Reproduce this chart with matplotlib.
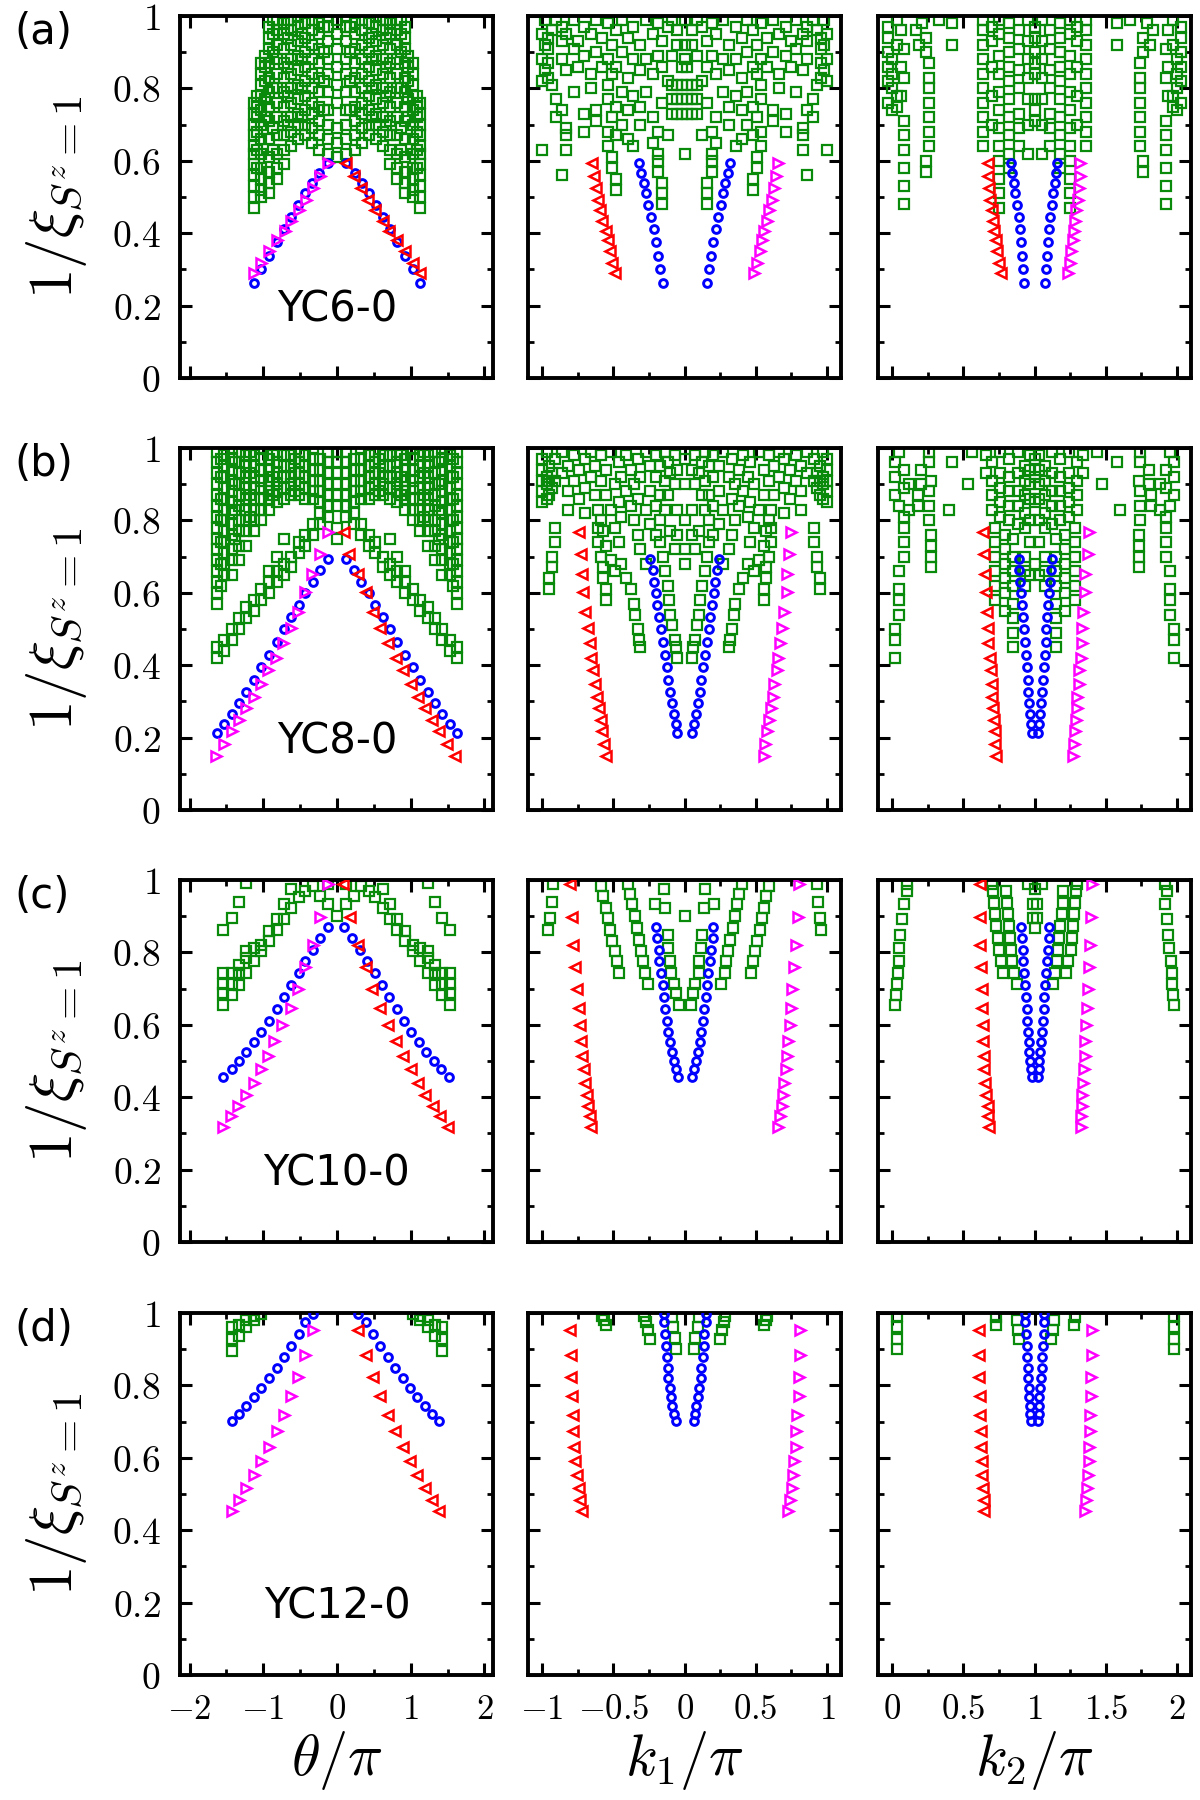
import numpy as np
import matplotlib.pyplot as plt

plt.rcParams['mathtext.fontset'] = 'cm'

# ---------------- row (a): YC6-0 ----------------
a_blue_y = [0.593, 0.567, 0.540, 0.510, 0.479, 0.445, 0.411, 0.375, 0.338, 0.300, 0.263]
a_blue_th_l = [-0.12, -0.24, -0.34, -0.44, -0.53, -0.63, -0.72, -0.81, -0.92, -1.03, -1.13]
a_blue_th_r = [0.12, 0.24, 0.34, 0.44, 0.53, 0.63, 0.72, 0.81, 0.92, 1.03, 1.13]
a_blue_k1_l = [-0.319, -0.303, -0.287, -0.271, -0.256, -0.233, -0.218, -0.202, -0.186, -0.170, -0.151]
a_blue_k1_r = [0.319, 0.303, 0.287, 0.271, 0.256, 0.233, 0.218, 0.202, 0.186, 0.170, 0.155]
a_blue_k2_l = [0.836, 0.842, 0.852, 0.864, 0.874, 0.890, 0.896, 0.905, 0.912, 0.921, 0.927]
a_blue_k2_r = [1.158, 1.151, 1.142, 1.132, 1.123, 1.110, 1.104, 1.095, 1.088, 1.079, 1.073]
a_tri_y = [0.593, 0.558, 0.524, 0.493, 0.463, 0.434, 0.407, 0.380, 0.352, 0.319, 0.290]
a_mag_th = [-0.12, -0.23, -0.33, -0.425, -0.52, -0.62, -0.71, -0.82, -0.92, -1.03, -1.13]
a_red_th = [0.12, 0.23, 0.33, 0.425, 0.52, 0.62, 0.71, 0.82, 0.92, 1.03, 1.13]
a_red_k1 = [-0.650, -0.634, -0.625, -0.609, -0.593, -0.577, -0.555, -0.539, -0.524, -0.508, -0.486]
a_mag_k1 = [0.659, 0.640, 0.628, 0.612, 0.596, 0.580, 0.560, 0.544, 0.527, 0.511, 0.486]
a_red_k2 = [0.669, 0.675, 0.681, 0.688, 0.697, 0.707, 0.716, 0.726, 0.735, 0.748, 0.763]
a_mag_k2 = [1.322, 1.316, 1.310, 1.303, 1.294, 1.285, 1.275, 1.266, 1.256, 1.247, 1.237]

a_green_th = [
    (-1.13, [0.47, 0.50, 0.53, 0.56, 0.59, 0.62, 0.64, 0.67, 0.70, 0.73, 0.76]),
    (-1.08, [0.58, 0.63, 0.68, 0.72, 0.75, 0.78]),
    (-1.03, [0.50, 0.52, 0.55, 0.58, 0.62, 0.66, 0.70, 0.74, 0.78, 0.81, 0.84, 0.87]),
    (-0.97, [0.72, 0.77, 0.82, 0.86, 0.89]),
    (-0.92, [0.51, 0.54, 0.57, 0.61, 0.66, 0.71, 0.75, 0.79, 0.83, 0.87, 0.91, 0.94, 0.97]),
    (-0.87, [0.63, 0.69, 0.80, 0.90, 0.95, 0.99]),
    (-0.81, [0.55, 0.58, 0.62, 0.67, 0.72, 0.76, 0.80, 0.84, 0.88, 0.92, 0.96, 0.99]),
    (-0.72, [0.59, 0.63, 0.67, 0.71, 0.75, 0.79, 0.83, 0.87, 0.91, 0.95, 0.98]),
    (-0.67, [0.70, 0.78, 0.86, 0.94, 0.99]),
    (-0.63, [0.64, 0.68, 0.72, 0.76, 0.80, 0.84, 0.88, 0.92, 0.96, 0.99]),
    (-0.53, [0.66, 0.70, 0.73, 0.77, 0.81, 0.85, 0.89, 0.93, 0.97, 1.00]),
    (-0.48, [0.72, 0.80, 0.88, 0.95]),
    (-0.44, [0.67, 0.70, 0.74, 0.78, 0.82, 0.86, 0.90, 0.94, 0.98]),
    (-0.34, [0.65, 0.69, 0.73, 0.76, 0.80, 0.84, 0.88, 0.92, 0.96, 0.99]),
    (-0.24, [0.63, 0.67, 0.71, 0.75, 0.79, 0.83, 0.87, 0.91, 0.95, 0.98]),
    (-0.18, [0.74, 0.82, 0.90, 0.97]),
    (-0.12, [0.62, 0.66, 0.70, 0.74, 0.79, 0.84, 0.88, 0.93, 0.97, 1.00]),
    (0.00, [0.61, 0.65, 0.69, 0.76, 0.81, 0.86, 0.91, 0.95, 0.99]),
    (0.12, [0.62, 0.66, 0.70, 0.74, 0.79, 0.84, 0.88, 0.93, 0.97, 1.00]),
    (0.18, [0.74, 0.82, 0.90, 0.97]),
    (0.24, [0.63, 0.67, 0.71, 0.75, 0.79, 0.83, 0.87, 0.91, 0.95, 0.98]),
    (0.34, [0.65, 0.69, 0.73, 0.76, 0.80, 0.84, 0.88, 0.92, 0.96, 0.99]),
    (0.44, [0.67, 0.70, 0.74, 0.78, 0.82, 0.86, 0.90, 0.94, 0.98]),
    (0.48, [0.72, 0.80, 0.88, 0.95]),
    (0.53, [0.66, 0.70, 0.73, 0.77, 0.81, 0.85, 0.89, 0.93, 0.97, 1.00]),
    (0.63, [0.64, 0.68, 0.72, 0.76, 0.80, 0.84, 0.88, 0.92, 0.96, 0.99]),
    (0.67, [0.70, 0.78, 0.86, 0.94, 0.99]),
    (0.72, [0.59, 0.63, 0.67, 0.71, 0.75, 0.79, 0.83, 0.87, 0.91, 0.95, 0.98]),
    (0.81, [0.55, 0.58, 0.62, 0.67, 0.72, 0.76, 0.80, 0.84, 0.88, 0.92, 0.96, 0.99]),
    (0.87, [0.63, 0.69, 0.80, 0.90, 0.95, 0.99]),
    (0.92, [0.51, 0.54, 0.57, 0.61, 0.66, 0.71, 0.75, 0.79, 0.83, 0.87, 0.91, 0.94, 0.97]),
    (0.97, [0.72, 0.77, 0.82, 0.86, 0.89]),
    (1.03, [0.50, 0.52, 0.55, 0.58, 0.62, 0.66, 0.70, 0.74, 0.78, 0.81, 0.84, 0.87]),
    (1.08, [0.58, 0.63, 0.68, 0.72, 0.75, 0.78]),
    (1.13, [0.47, 0.50, 0.53, 0.56, 0.59, 0.62, 0.64, 0.67, 0.70, 0.73, 0.76]),
]
a_green_k1 = [
    (-1.00, [0.63, 0.82, 0.88, 0.95]), (-0.98, [0.85, 0.92, 0.99]),
    (-0.96, [0.83, 0.87, 0.91, 0.94]), (-0.93, [0.81, 0.96]),
    (-0.90, [0.72, 0.77, 0.99]), (-0.86, [0.56, 0.74, 0.88, 0.93, 0.97]),
    (-0.83, [0.63, 0.67, 0.69, 0.85, 0.95]), (-0.78, [0.79, 0.91, 0.99]),
    (-0.75, [0.86, 0.93]), (-0.71, [0.68, 0.73, 0.89, 0.97]),
    (-0.66, [0.80, 0.84, 0.95]), (-0.62, [0.71, 0.74, 0.90, 0.99]),
    (-0.58, [0.86, 0.94]), (-0.54, [0.64, 0.68, 0.77, 0.81, 0.88, 0.98]),
    (-0.51, [0.58, 0.61, 0.72, 0.84, 0.92]), (-0.48, [0.52, 0.55, 0.67, 0.75, 0.86, 0.96]),
    (-0.44, [0.70, 0.79, 0.90, 0.99]), (-0.40, [0.66, 0.74, 0.83, 0.94]),
    (-0.36, [0.64, 0.78, 0.88, 0.97]), (-0.31, [0.70, 0.75, 0.85, 0.92]),
    (-0.27, [0.79, 0.88, 0.99]), (-0.22, [0.65, 0.72, 0.84, 0.95]),
    (-0.19, [0.57, 0.60, 0.62, 0.68, 0.89, 0.98]), (-0.16, [0.48, 0.51, 0.54, 0.76, 0.86, 0.93]),
    (-0.12, [0.67, 0.82, 0.97]), (-0.09, [0.73, 0.77, 0.81, 0.89, 0.99]),
    (-0.05, [0.73, 0.77, 0.81, 0.92, 0.96]), (-0.02, [0.73, 0.77, 0.81, 0.86]),
    (0.00, [0.62, 0.88, 0.92, 0.99]),
    (0.02, [0.73, 0.77, 0.81, 0.86]), (0.05, [0.73, 0.77, 0.81, 0.92, 0.96]),
    (0.09, [0.73, 0.77, 0.81, 0.89, 0.99]), (0.12, [0.67, 0.82, 0.97]),
    (0.16, [0.48, 0.51, 0.54, 0.76, 0.86, 0.93]), (0.19, [0.57, 0.60, 0.62, 0.68, 0.89, 0.98]),
    (0.22, [0.65, 0.72, 0.84, 0.95]), (0.27, [0.79, 0.88, 0.99]),
    (0.31, [0.70, 0.75, 0.85, 0.92]), (0.36, [0.64, 0.78, 0.88, 0.97]),
    (0.40, [0.66, 0.74, 0.83, 0.94]), (0.44, [0.70, 0.79, 0.90, 0.99]),
    (0.48, [0.52, 0.55, 0.67, 0.75, 0.86, 0.96]), (0.51, [0.58, 0.61, 0.72, 0.84, 0.92]),
    (0.54, [0.64, 0.68, 0.77, 0.81, 0.88, 0.98]), (0.58, [0.86, 0.94]),
    (0.62, [0.71, 0.74, 0.90, 0.99]), (0.66, [0.80, 0.84, 0.95]),
    (0.71, [0.68, 0.73, 0.89, 0.97]), (0.75, [0.86, 0.93]),
    (0.78, [0.79, 0.91, 0.99]), (0.83, [0.63, 0.67, 0.69, 0.85, 0.95]),
    (0.86, [0.56, 0.74, 0.88, 0.93, 0.97]), (0.90, [0.72, 0.77, 0.99]),
    (0.93, [0.81, 0.96]), (0.96, [0.83, 0.87, 0.91, 0.94]),
    (0.98, [0.85, 0.92, 0.99]), (1.00, [0.63, 0.82, 0.88, 0.95]),
]
a_green_k2 = [
    (-0.03, [0.76, 0.82, 0.86, 0.90, 0.94, 0.97]), (0.00, [0.74, 0.80, 0.84, 0.88]),
    (0.03, [0.75, 0.78, 0.92, 0.99]), (0.06, [0.78, 0.86, 0.96]),
    (0.08, [0.48, 0.53, 0.58, 0.63, 0.67, 0.71, 0.83, 0.91]),
    (0.17, [0.96]), (0.19, [0.92]), (0.21, [0.98]),
    (0.24, [0.57, 0.60, 0.90, 0.94]), (0.26, [0.64, 0.68, 0.72, 0.76, 0.80, 0.83, 0.87]),
    (0.33, [0.99]), (0.42, [0.92, 0.98]),
    (0.64, [0.64, 0.68, 0.72, 0.76, 0.80, 0.84, 0.88, 0.92, 0.96, 0.99]),
    (0.70, [0.70, 0.78, 0.86, 0.93, 0.97]),
    (0.75, [0.47, 0.51, 0.55, 0.60, 0.64, 0.69, 0.74, 0.79, 0.84, 0.89, 0.95, 0.99]),
    (0.82, [0.58, 0.62, 0.67, 0.72, 0.77, 0.82, 0.86, 0.90, 0.94, 0.98]),
    (0.89, [0.64, 0.69, 0.73, 0.80, 0.85, 0.91, 0.96]),
    (0.95, [0.62, 0.70, 0.77, 0.83, 0.88, 0.93, 0.99]),
    (1.00, [0.71, 0.74, 0.77, 0.84, 0.87, 0.90, 0.94, 0.97]),
    (1.05, [0.62, 0.70, 0.77, 0.83, 0.88, 0.93, 0.99]),
    (1.11, [0.64, 0.69, 0.73, 0.80, 0.85, 0.91, 0.96]),
    (1.18, [0.58, 0.62, 0.67, 0.72, 0.77, 0.82, 0.86, 0.90, 0.94, 0.98]),
    (1.25, [0.47, 0.51, 0.55, 0.60, 0.64, 0.69, 0.74, 0.79, 0.84, 0.89, 0.95, 0.99]),
    (1.30, [0.70, 0.78, 0.86, 0.93, 0.97]),
    (1.36, [0.64, 0.68, 0.72, 0.76, 0.80, 0.84, 0.88, 0.92, 0.96, 0.99]),
    (1.58, [0.92, 0.98]), (1.67, [0.99]),
    (1.74, [0.64, 0.68, 0.72, 0.76, 0.80, 0.83, 0.87]), (1.76, [0.57, 0.60, 0.90, 0.94]),
    (1.79, [0.98]), (1.81, [0.92]), (1.83, [0.96]),
    (1.92, [0.48, 0.53, 0.58, 0.63, 0.67, 0.71, 0.83, 0.91]),
    (1.94, [0.78, 0.86, 0.96]), (1.97, [0.75, 0.78, 0.92, 0.99]),
    (2.00, [0.74, 0.80, 0.84, 0.88]), (2.03, [0.76, 0.82, 0.86, 0.90, 0.94, 0.97]),
]

# ---------------- row (b): YC8-0 ----------------
b_blue_y = [0.693, 0.663, 0.631, 0.600, 0.567, 0.533, 0.500, 0.463, 0.428, 0.394,
            0.358, 0.326, 0.295, 0.265, 0.237, 0.214]
b_blue_th_l = [-0.12, -0.23, -0.33, -0.43, -0.52, -0.62, -0.72, -0.82, -0.92, -1.03,
               -1.13, -1.23, -1.33, -1.43, -1.53, -1.63]
b_blue_th_r = [0.12, 0.23, 0.33, 0.43, 0.52, 0.62, 0.72, 0.82, 0.92, 1.03,
               1.13, 1.23, 1.33, 1.43, 1.53, 1.63]
b_blue_k1_l = [-0.240, -0.224, -0.215, -0.202, -0.192, -0.177, -0.167, -0.155, -0.139, -0.123,
               -0.114, -0.104, -0.091, -0.076, -0.060, -0.050]
b_blue_k1_r = [0.243, 0.227, 0.217, 0.205, 0.193, 0.180, 0.168, 0.156, 0.142, 0.126,
               0.116, 0.105, 0.093, 0.078, 0.063, 0.054]
b_blue_k2_l = [0.890, 0.893, 0.899, 0.905, 0.911, 0.918, 0.924, 0.930, 0.937, 0.943,
               0.950, 0.956, 0.962, 0.968, 0.975, 0.984]
b_blue_k2_r = [1.120, 1.115, 1.110, 1.103, 1.097, 1.090, 1.083, 1.077, 1.070, 1.063,
               1.057, 1.050, 1.044, 1.038, 1.032, 1.025]
b_tri_y = [0.769, 0.707, 0.651, 0.602, 0.546, 0.502, 0.462, 0.421, 0.386, 0.349,
           0.313, 0.282, 0.248, 0.217, 0.183, 0.149]
b_mag_th = [-0.12, -0.23, -0.34, -0.44, -0.53, -0.63, -0.73, -0.83, -0.93, -1.03,
            -1.13, -1.23, -1.33, -1.43, -1.53, -1.64]
b_red_th = [0.10, 0.17, 0.29, 0.40, 0.49, 0.58, 0.69, 0.80, 0.90, 1.00,
            1.10, 1.19, 1.29, 1.39, 1.49, 1.60]
b_red_k1 = [-0.744, -0.729, -0.719, -0.713, -0.697, -0.681, -0.666, -0.656, -0.644, -0.628,
            -0.618, -0.603, -0.587, -0.577, -0.565, -0.555]
b_mag_k1 = [0.748, 0.735, 0.722, 0.716, 0.700, 0.685, 0.669, 0.659, 0.647, 0.631,
            0.621, 0.606, 0.590, 0.580, 0.568, 0.558]
b_red_k2 = [0.637, 0.647, 0.653, 0.659, 0.662, 0.669, 0.675, 0.685, 0.691, 0.700,
            0.703, 0.707, 0.716, 0.719, 0.722, 0.732]
b_mag_k2 = [1.379, 1.372, 1.353, 1.353, 1.341, 1.334, 1.331, 1.325, 1.315, 1.309,
            1.300, 1.300, 1.290, 1.284, 1.278, 1.268]

b_green_th = [
    (-1.63, [0.42, 0.45, 0.57, 0.60, 0.63, 0.66, 0.69, 0.72, 0.75, 0.78, 0.81, 0.84, 0.87, 0.90, 0.93, 0.96, 0.99]),
    (-1.58, [0.62, 0.68, 0.74, 0.80, 0.86, 0.92, 0.97]),
    (-1.53, [0.44, 0.47, 0.65, 0.68, 0.71, 0.74, 0.77, 0.80, 0.83, 0.86, 0.89, 0.92, 0.95, 0.98]),
    (-1.43, [0.47, 0.50, 0.65, 0.69, 0.72, 0.76, 0.79, 0.82, 0.85, 0.88, 0.91, 0.94, 0.97, 1.00]),
    (-1.38, [0.75, 0.83, 0.90, 0.96]),
    (-1.33, [0.50, 0.53, 0.69, 0.73, 0.77, 0.80, 0.84, 0.87, 0.90, 0.93, 0.96, 0.99]),
    (-1.23, [0.53, 0.56, 0.73, 0.77, 0.80, 0.83, 0.86, 0.89, 0.92, 0.95, 0.98]),
    (-1.18, [0.81, 0.87, 0.93, 0.99]),
    (-1.13, [0.55, 0.58, 0.77, 0.80, 0.83, 0.86, 0.89, 0.92, 0.95, 0.98]),
    (-1.03, [0.58, 0.61, 0.80, 0.83, 0.86, 0.89, 0.91, 0.94, 0.97, 1.00]),
    (-0.92, [0.60, 0.63, 0.66, 0.83, 0.86, 0.88, 0.91, 0.94, 0.97]),
    (-0.87, [0.87, 0.92, 0.98]),
    (-0.82, [0.63, 0.66, 0.70, 0.85, 0.88, 0.90, 0.93, 0.96, 0.99]),
    (-0.72, [0.65, 0.68, 0.75, 0.86, 0.89, 0.92, 0.95, 0.98]),
    (-0.62, [0.67, 0.70, 0.87, 0.90, 0.92, 0.95, 0.98]),
    (-0.57, [0.88, 0.93, 0.97]),
    (-0.52, [0.71, 0.74, 0.87, 0.90, 0.93, 0.96, 0.99]),
    (-0.43, [0.73, 0.76, 0.86, 0.89, 0.92, 0.95, 0.98]),
    (-0.33, [0.76, 0.79, 0.86, 0.88, 0.91, 0.94, 0.97, 1.00]),
    (-0.23, [0.79, 0.82, 0.85, 0.88, 0.91, 0.94, 0.97]),
    (-0.12, [0.81, 0.84, 0.87, 0.90, 0.93, 0.96, 0.99]),
    (0.00, [0.75, 0.78, 0.84, 0.87, 0.90, 0.93, 0.96, 0.99]),
    (0.12, [0.81, 0.84, 0.87, 0.90, 0.93, 0.96, 0.99]),
    (0.23, [0.79, 0.82, 0.85, 0.88, 0.91, 0.94, 0.97]),
    (0.33, [0.76, 0.79, 0.86, 0.88, 0.91, 0.94, 0.97, 1.00]),
    (0.43, [0.73, 0.76, 0.86, 0.89, 0.92, 0.95, 0.98]),
    (0.52, [0.71, 0.74, 0.87, 0.90, 0.93, 0.96, 0.99]),
    (0.57, [0.88, 0.93, 0.97]),
    (0.62, [0.67, 0.70, 0.87, 0.90, 0.92, 0.95, 0.98]),
    (0.72, [0.65, 0.68, 0.75, 0.86, 0.89, 0.92, 0.95, 0.98]),
    (0.82, [0.63, 0.66, 0.70, 0.85, 0.88, 0.90, 0.93, 0.96, 0.99]),
    (0.87, [0.87, 0.92, 0.98]),
    (0.92, [0.60, 0.63, 0.66, 0.83, 0.86, 0.88, 0.91, 0.94, 0.97]),
    (1.03, [0.58, 0.61, 0.80, 0.83, 0.86, 0.89, 0.91, 0.94, 0.97, 1.00]),
    (1.13, [0.55, 0.58, 0.77, 0.80, 0.83, 0.86, 0.89, 0.92, 0.95, 0.98]),
    (1.18, [0.81, 0.87, 0.93, 0.99]),
    (1.23, [0.53, 0.56, 0.73, 0.77, 0.80, 0.83, 0.86, 0.89, 0.92, 0.95, 0.98]),
    (1.33, [0.50, 0.53, 0.69, 0.73, 0.77, 0.80, 0.84, 0.87, 0.90, 0.93, 0.96, 0.99]),
    (1.38, [0.75, 0.83, 0.90, 0.96]),
    (1.43, [0.47, 0.50, 0.65, 0.69, 0.72, 0.76, 0.79, 0.82, 0.85, 0.88, 0.91, 0.94, 0.97, 1.00]),
    (1.53, [0.44, 0.47, 0.65, 0.68, 0.71, 0.74, 0.77, 0.80, 0.83, 0.86, 0.89, 0.92, 0.95, 0.98]),
    (1.58, [0.62, 0.68, 0.74, 0.80, 0.86, 0.92, 0.97]),
    (1.63, [0.42, 0.45, 0.57, 0.60, 0.63, 0.66, 0.69, 0.72, 0.75, 0.78, 0.81, 0.84, 0.87, 0.90, 0.93, 0.96, 0.99]),
]
b_green_k1 = [
    (-1.00, [0.85, 0.88, 0.91, 0.94, 0.97]), (-0.97, [0.86, 0.90, 0.92, 0.99]),
    (-0.95, [0.61, 0.64, 0.87, 0.91, 0.95]), (-0.93, [0.67, 0.70, 0.89, 0.93]),
    (-0.91, [0.74, 0.78, 0.91, 0.97]), (-0.86, [0.93, 0.99]),
    (-0.82, [0.83, 0.88, 0.95]), (-0.78, [0.91, 0.98]), (-0.74, [0.86, 0.94]),
    (-0.70, [0.82, 0.89, 0.97]), (-0.66, [0.92, 0.99]), (-0.63, [0.87, 0.95]),
    (-0.61, [0.74, 0.78, 0.83]), (-0.59, [0.70, 0.80, 0.91, 0.98]),
    (-0.57, [0.64, 0.67, 0.77]), (-0.555, [0.58, 0.61, 0.73, 0.87, 0.94]),
    (-0.52, [0.69, 0.83, 0.99]), (-0.49, [0.66, 0.78, 0.90]),
    (-0.46, [0.74, 0.85, 0.96]), (-0.445, [0.68, 0.81, 0.92]),
    (-0.41, [0.64, 0.88, 0.98]), (-0.38, [0.61, 0.84, 0.94]),
    (-0.355, [0.57, 0.80, 0.90]), (-0.35, [0.54]), (-0.33, [0.50, 0.76, 0.86, 0.97]),
    (-0.32, [0.47]), (-0.31, [0.45, 0.72, 0.92]), (-0.27, [0.68, 0.83, 0.99]),
    (-0.24, [0.79, 0.88, 0.95]), (-0.20, [0.76, 0.84, 0.92, 0.98]),
    (-0.17, [0.74, 0.80, 0.87, 0.95]), (-0.155, [0.70]),
    (-0.14, [0.66, 0.83, 0.91, 0.99]), (-0.12, [0.62, 0.87, 0.96]), (-0.11, [0.58]),
    (-0.10, [0.54, 0.77, 0.93]), (-0.09, [0.51]), (-0.07, [0.47, 0.72, 0.90, 0.98]),
    (-0.06, [0.45]), (-0.05, [0.42, 0.76, 0.83, 0.94]),
    (0.00, [0.68, 0.72, 0.80, 0.90, 0.97]),
    (0.05, [0.42, 0.76, 0.83, 0.94]), (0.06, [0.45]), (0.07, [0.47, 0.72, 0.90, 0.98]),
    (0.09, [0.51]), (0.10, [0.54, 0.77, 0.93]), (0.11, [0.58]), (0.12, [0.62, 0.87, 0.96]),
    (0.14, [0.66, 0.83, 0.91, 0.99]), (0.155, [0.70]), (0.17, [0.74, 0.80, 0.87, 0.95]),
    (0.20, [0.76, 0.84, 0.92, 0.98]), (0.24, [0.79, 0.88, 0.95]),
    (0.27, [0.68, 0.83, 0.99]), (0.31, [0.45, 0.72, 0.92]), (0.32, [0.47]),
    (0.33, [0.50, 0.76, 0.86, 0.97]), (0.35, [0.54]), (0.355, [0.57, 0.80, 0.90]),
    (0.38, [0.61, 0.84, 0.94]), (0.41, [0.64, 0.88, 0.98]), (0.445, [0.68, 0.81, 0.92]),
    (0.46, [0.74, 0.85, 0.96]), (0.49, [0.66, 0.78, 0.90]), (0.52, [0.69, 0.83, 0.99]),
    (0.555, [0.58, 0.61, 0.73, 0.87, 0.94]), (0.57, [0.64, 0.67, 0.77]),
    (0.59, [0.70, 0.80, 0.91, 0.98]), (0.61, [0.74, 0.78, 0.83]),
    (0.63, [0.87, 0.95]), (0.66, [0.92, 0.99]), (0.70, [0.82, 0.89, 0.97]),
    (0.74, [0.86, 0.94]), (0.78, [0.91, 0.98]), (0.82, [0.83, 0.88, 0.95]),
    (0.86, [0.93, 0.99]), (0.91, [0.74, 0.78, 0.91, 0.97]), (0.93, [0.67, 0.70, 0.89, 0.93]),
    (0.95, [0.61, 0.64, 0.87, 0.91, 0.95]), (0.97, [0.86, 0.90, 0.92, 0.99]),
    (1.00, [0.85, 0.88, 0.91, 0.94, 0.97]),
]
b_green_k2 = [
    (0.02, [0.42, 0.47, 0.50, 0.87, 0.92, 0.96]), (0.05, [0.54, 0.58, 0.61, 0.66, 0.84, 0.99]),
    (0.08, [0.70, 0.74, 0.78, 0.81, 0.89, 0.94]), (0.12, [0.83, 0.90]),
    (0.18, [0.84, 0.87]), (0.20, [0.90, 0.94]),
    (0.26, [0.80, 0.84, 0.88, 0.96, 0.99]), (0.27, [0.67, 0.70, 0.73, 0.76, 0.91]),
    (0.40, [0.83]), (0.42, [0.96]), (0.53, [0.90]), (0.56, [0.99]),
    (0.66, [0.93, 0.98]), (0.70, [0.83, 0.87, 0.91, 0.96]),
    (0.72, [0.58, 0.62, 0.66, 0.70, 0.74, 0.78]), (0.76, [0.81, 0.85, 0.89, 0.93, 0.99]),
    (0.79, [0.55, 0.60, 0.64, 0.68, 0.72, 0.76]), (0.82, [0.80, 0.84, 0.88, 0.92, 0.97]),
    (0.85, [0.45, 0.49, 0.53, 0.57, 0.62, 0.66, 0.70, 0.75]), (0.88, [0.79, 0.84, 0.88, 0.93, 0.99]),
    (0.93, [0.62, 0.66, 0.70, 0.78, 0.82, 0.87, 0.91, 0.95]),
    (0.97, [0.65, 0.74, 0.80, 0.86, 0.90, 0.94, 0.98]), (1.00, [0.68, 0.85, 0.92, 0.97]),
    (1.03, [0.65, 0.74, 0.80, 0.86, 0.90, 0.94, 0.98]),
    (1.07, [0.62, 0.66, 0.70, 0.78, 0.82, 0.87, 0.91, 0.95]),
    (1.12, [0.79, 0.84, 0.88, 0.93, 0.99]), (1.15, [0.45, 0.49, 0.53, 0.57, 0.62, 0.66, 0.70, 0.75]),
    (1.18, [0.80, 0.84, 0.88, 0.92, 0.97]), (1.21, [0.55, 0.60, 0.64, 0.68, 0.72, 0.76]),
    (1.24, [0.81, 0.85, 0.89, 0.93, 0.99]), (1.28, [0.58, 0.62, 0.66, 0.70, 0.74, 0.78]),
    (1.30, [0.83, 0.87, 0.91, 0.96]), (1.34, [0.93, 0.98]),
    (1.44, [0.99]), (1.47, [0.90]), (1.58, [0.96]), (1.60, [0.83]),
    (1.73, [0.67, 0.70, 0.73, 0.76, 0.91]), (1.74, [0.80, 0.84, 0.88, 0.96, 0.99]),
    (1.80, [0.90, 0.94]), (1.82, [0.84, 0.87]), (1.88, [0.83, 0.90]),
    (1.92, [0.70, 0.74, 0.78, 0.81, 0.89, 0.94]), (1.95, [0.54, 0.58, 0.61, 0.66, 0.84, 0.99]),
    (1.98, [0.42, 0.47, 0.50, 0.87, 0.92, 0.96]),
]

# ---------------- row (c): YC10-0 ----------------
c_blue_y = [0.871, 0.840, 0.807, 0.777, 0.742, 0.710, 0.677, 0.643, 0.611, 0.581,
            0.552, 0.526, 0.500, 0.479, 0.457]
c_blue_th_l = [-0.12, -0.23, -0.33, -0.43, -0.52, -0.62, -0.72, -0.82, -0.92, -1.03,
               -1.13, -1.23, -1.33, -1.43, -1.54]
c_blue_th_r = [0.10, 0.20, 0.31, 0.41, 0.51, 0.61, 0.71, 0.81, 0.91, 1.01,
               1.11, 1.21, 1.31, 1.41, 1.52]
c_blue_k1_l = [-0.199, -0.192, -0.183, -0.177, -0.167, -0.155, -0.145, -0.136, -0.123, -0.114,
               -0.104, -0.091, -0.076, -0.060, -0.044]
c_blue_k1_r = [0.202, 0.196, 0.186, 0.177, 0.167, 0.158, 0.148, 0.136, 0.126, 0.117,
               0.107, 0.095, 0.079, 0.063, 0.050]
c_blue_k2_l = [0.905, 0.911, 0.915, 0.921, 0.924, 0.931, 0.937, 0.943, 0.946, 0.952,
               0.959, 0.962, 0.968, 0.975, 0.978]
c_blue_k2_r = [1.101, 1.098, 1.092, 1.088, 1.082, 1.076, 1.069, 1.063, 1.057, 1.050,
               1.044, 1.038, 1.034, 1.028, 1.025]
c_tri_y = [0.989, 0.898, 0.821, 0.761, 0.699, 0.647, 0.600, 0.556, 0.514, 0.477,
           0.440, 0.407, 0.375, 0.347, 0.319]
c_mag_th = [-0.12, -0.23, -0.33, -0.43, -0.53, -0.63, -0.74, -0.85, -0.94, -1.03,
            -1.13, -1.23, -1.34, -1.44, -1.54]
c_red_th = [0.08, 0.18, 0.29, 0.39, 0.48, 0.58, 0.69, 0.80, 0.90, 1.00,
            1.10, 1.20, 1.30, 1.40, 1.51]
c_red_k1 = [-0.808, -0.792, -0.782, -0.770, -0.754, -0.744, -0.735, -0.729, -0.719, -0.707,
            -0.697, -0.688, -0.681, -0.666, -0.656]
c_mag_k1 = [0.801, 0.795, 0.782, 0.770, 0.757, 0.747, 0.738, 0.729, 0.719, 0.710,
            0.700, 0.691, 0.681, 0.669, 0.659]
c_red_k2 = [0.615, 0.615, 0.615, 0.621, 0.628, 0.631, 0.637, 0.637, 0.644, 0.647,
            0.653, 0.659, 0.669, 0.675, 0.678]
c_mag_k2 = [1.404, 1.394, 1.388, 1.379, 1.372, 1.369, 1.363, 1.356, 1.353, 1.347,
            1.341, 1.334, 1.331, 1.325, 1.325]

c_green_th = [
    (-1.54, [0.654, 0.687, 0.714, 0.742, 0.863]), (-1.43, [0.682, 0.714, 0.742, 0.896]),
    (-1.33, [0.710, 0.742, 0.766, 0.938]), (-1.23, [0.742, 0.784, 0.803, 0.991]),
    (-1.13, [0.775, 0.812]), (-1.03, [0.803, 0.821]), (-0.92, [0.831, 0.859]),
    (-0.82, [0.863, 0.891]), (-0.72, [0.891, 0.933]), (-0.62, [0.924, 0.975]),
    (-0.52, [0.952]), (-0.43, [0.970]), (-0.33, [0.984]), (-0.23, [0.955]),
    (-0.12, [0.933, 0.990]), (0.00, [0.900]), (0.12, [0.933, 0.990]),
    (0.23, [0.955]), (0.33, [0.984]), (0.43, [0.970]), (0.52, [0.952]),
    (0.62, [0.924, 0.975]), (0.72, [0.891, 0.933]), (0.82, [0.863, 0.891]),
    (0.92, [0.831, 0.859]), (1.03, [0.803, 0.821]), (1.13, [0.775, 0.812]),
    (1.23, [0.742, 0.784, 0.803, 0.991]), (1.33, [0.710, 0.742, 0.766, 0.938]),
    (1.43, [0.682, 0.714, 0.742, 0.896]), (1.54, [0.654, 0.687, 0.714, 0.742, 0.863]),
]
c_green_k1 = [
    (-0.959, [0.863]), (-0.943, [0.896]), (-0.934, [0.938]), (-0.924, [0.989]),
    (-0.461, [0.742]), (-0.476, [0.775]), (-0.492, [0.803]), (-0.508, [0.831]),
    (-0.524, [0.863]), (-0.539, [0.896]), (-0.555, [0.924]), (-0.571, [0.956]), (-0.587, [0.984]),
    (-0.256, [0.714]), (-0.281, [0.742]), (-0.293, [0.775]), (-0.303, [0.803]),
    (-0.319, [0.835]), (-0.334, [0.868]), (-0.350, [0.900]), (-0.366, [0.933]),
    (-0.382, [0.961]), (-0.397, [0.989]),
    (-0.041, [0.656]), (-0.057, [0.687]), (-0.073, [0.714]), (-0.098, [0.742]),
    (-0.104, [0.775]), (-0.114, [0.812]), (-0.120, [0.849]), (-0.136, [0.924]),
    (-0.145, [0.975]), (-0.208, [0.933]), (0.000, [0.900]),
    (0.208, [0.933]), (0.145, [0.975]), (0.136, [0.924]), (0.120, [0.849]),
    (0.114, [0.812]), (0.104, [0.775]), (0.098, [0.742]), (0.073, [0.714]),
    (0.057, [0.687]), (0.044, [0.656]),
    (0.259, [0.714]), (0.281, [0.742]), (0.293, [0.775]), (0.306, [0.803]),
    (0.322, [0.835]), (0.337, [0.868]), (0.353, [0.900]), (0.369, [0.933]),
    (0.385, [0.961]), (0.400, [0.989]),
    (0.464, [0.742]), (0.479, [0.775]), (0.495, [0.803]), (0.511, [0.831]),
    (0.527, [0.863]), (0.542, [0.896]), (0.558, [0.924]), (0.574, [0.956]), (0.590, [0.984]),
    (0.959, [0.863]), (0.950, [0.896]), (0.940, [0.938]), (0.931, [0.989]),
]
c_green_k2 = [
    (0.022, [0.654]), (0.028, [0.682]), (0.032, [0.714]), (0.038, [0.742]),
    (0.044, [0.775]), (0.047, [0.812]), (0.054, [0.849]), (0.069, [0.891]),
    (0.085, [0.933]), (0.101, [0.970, 0.990]),
    (0.779, [0.742]), (0.763, [0.775]), (0.748, [0.808]), (0.741, [0.840]),
    (0.732, [0.872]), (0.725, [0.905]), (0.716, [0.937]), (0.710, [0.970]), (0.700, [0.989]),
    (0.874, [0.714]), (0.858, [0.742]), (0.842, [0.775]), (0.836, [0.808]),
    (0.827, [0.840]), (0.820, [0.872]), (0.811, [0.905]), (0.804, [0.937]), (0.798, [0.970]),
    (1.000, [0.868, 0.975]), (0.985, [0.896, 0.933]), (1.015, [0.896, 0.933]),
    (0.950, [0.990]), (1.050, [0.990]),
    (1.126, [0.714]), (1.142, [0.742]), (1.158, [0.775]), (1.164, [0.808]),
    (1.173, [0.840]), (1.180, [0.872]), (1.189, [0.905]), (1.196, [0.937]), (1.202, [0.970]),
    (1.221, [0.742]), (1.237, [0.775]), (1.252, [0.808]), (1.259, [0.840]),
    (1.268, [0.872]), (1.275, [0.905]), (1.284, [0.937]), (1.290, [0.970]), (1.300, [0.989]),
    (1.978, [0.654]), (1.972, [0.682]), (1.968, [0.714]), (1.962, [0.742]),
    (1.956, [0.775]), (1.946, [0.812]), (1.940, [0.849]), (1.930, [0.891, 0.970]),
    (1.915, [0.933, 0.990]),
]

# ---------------- row (d): YC12-0 ----------------
d_blue_y = [0.998, 0.975, 0.942, 0.910, 0.880, 0.849, 0.821, 0.793, 0.768, 0.742, 0.722, 0.702]
d_blue_th_l = [-0.33, -0.43, -0.52, -0.62, -0.72, -0.82, -0.92, -1.03, -1.13, -1.23, -1.33, -1.43]
d_blue_th_r = [0.29, 0.39, 0.49, 0.59, 0.69, 0.79, 0.89, 0.99, 1.09, 1.19, 1.29, 1.39]
d_blue_k1_l = [-0.145, -0.145, -0.136, -0.130, -0.123, -0.120, -0.114, -0.104, -0.098, -0.088, -0.073, -0.060]
d_blue_k1_r = [0.148, 0.148, 0.139, 0.133, 0.126, 0.117, 0.114, 0.101, 0.091, 0.082, 0.076, 0.066]
d_blue_k2_l = [0.931, 0.931, 0.937, 0.943, 0.946, 0.950, 0.956, 0.962, 0.962, 0.968, 0.968, 0.975]
d_blue_k2_r = [1.069, 1.069, 1.063, 1.057, 1.053, 1.050, 1.044, 1.038, 1.034, 1.031, 1.028, 1.025]
d_tri_y = [0.952, 0.884, 0.824, 0.770, 0.719, 0.674, 0.631, 0.591, 0.553, 0.517, 0.484, 0.452]
d_mag_th = [-0.33, -0.43, -0.53, -0.63, -0.72, -0.82, -0.92, -1.03, -1.13, -1.23, -1.33, -1.43]
d_red_th = [0.29, 0.39, 0.49, 0.59, 0.69, 0.79, 0.89, 0.99, 1.09, 1.19, 1.29, 1.39]
d_red_k1 = [-0.808, -0.801, -0.798, -0.792, -0.785, -0.782, -0.776, -0.767, -0.754, -0.744, -0.735, -0.722]
d_mag_k1 = [0.811, 0.811, 0.801, 0.801, 0.792, 0.785, 0.779, 0.770, 0.760, 0.754, 0.738, 0.729]
d_red_k2 = [0.606, 0.612, 0.612, 0.615, 0.615, 0.621, 0.621, 0.628, 0.631, 0.637, 0.644, 0.647]
d_mag_k2 = [1.404, 1.404, 1.394, 1.394, 1.388, 1.388, 1.379, 1.379, 1.372, 1.369, 1.363, 1.356]

d_green_th = [
    (-1.43, [0.896, 0.928, 0.961]), (-1.33, [0.938, 0.966]), (-1.23, [0.961, 0.980]),
    (-1.12, [0.980, 0.993]), (-1.03, [0.998]),
    (1.03, [0.998]), (1.12, [0.980, 0.993]), (1.23, [0.961, 0.980]),
    (1.33, [0.938, 0.966]), (1.43, [0.896, 0.928, 0.961]),
]
d_green_k1 = [
    (-0.555, [0.966]), (-0.565, [0.982]), (-0.577, [0.993]),
    (-0.240, [0.928]), (-0.256, [0.952]), (-0.270, [0.975]), (-0.287, [0.993]),
    (-0.060, [0.902]), (-0.066, [0.930]), (-0.082, [0.961]), (-0.091, [0.989]),
    (0.066, [0.902]), (0.076, [0.930]), (0.091, [0.961]), (0.098, [0.989]),
    (0.249, [0.928]), (0.265, [0.952]), (0.274, [0.975]), (0.287, [0.993]),
    (0.558, [0.966]), (0.571, [0.982]), (0.580, [0.993]),
]
d_green_k2 = [
    (0.032, [0.900, 0.928, 0.961, 0.993]), (0.732, [0.966]), (0.726, [0.989]),
    (0.890, [0.928]), (0.883, [0.952]), (0.873, [0.980]),
    (1.117, [0.928]), (1.126, [0.952]), (1.133, [0.980]),
    (1.278, [0.966]), (1.284, [0.989]), (1.978, [0.900, 0.928, 0.961, 0.993]),
]

rows = [
    dict(tag='(a)', name='YC6-0', by=a_blue_y, ty=a_tri_y,
         blue=[(a_blue_th_l, a_blue_th_r), (a_blue_k1_l, a_blue_k1_r), (a_blue_k2_l, a_blue_k2_r)],
         red=[a_red_th, a_red_k1, a_red_k2], mag=[a_mag_th, a_mag_k1, a_mag_k2],
         green=[a_green_th, a_green_k1, a_green_k2]),
    dict(tag='(b)', name='YC8-0', by=b_blue_y, ty=b_tri_y,
         blue=[(b_blue_th_l, b_blue_th_r), (b_blue_k1_l, b_blue_k1_r), (b_blue_k2_l, b_blue_k2_r)],
         red=[b_red_th, b_red_k1, b_red_k2], mag=[b_mag_th, b_mag_k1, b_mag_k2],
         green=[b_green_th, b_green_k1, b_green_k2]),
    dict(tag='(c)', name='YC10-0', by=c_blue_y, ty=c_tri_y,
         blue=[(c_blue_th_l, c_blue_th_r), (c_blue_k1_l, c_blue_k1_r), (c_blue_k2_l, c_blue_k2_r)],
         red=[c_red_th, c_red_k1, c_red_k2], mag=[c_mag_th, c_mag_k1, c_mag_k2],
         green=[c_green_th, c_green_k1, c_green_k2]),
    dict(tag='(d)', name='YC12-0', by=d_blue_y, ty=d_tri_y,
         blue=[(d_blue_th_l, d_blue_th_r), (d_blue_k1_l, d_blue_k1_r), (d_blue_k2_l, d_blue_k2_r)],
         red=[d_red_th, d_red_k1, d_red_k2], mag=[d_mag_th, d_mag_k1, d_mag_k2],
         green=[d_green_th, d_green_k1, d_green_k2]),
]

col_x0 = [0.150, 0.440, 0.7317]
col_w = 0.261
row_y0 = [0.790, 0.550, 0.310, 0.0694]
row_h = 0.2011

xlims = [(-2.13, 2.12), (-1.1, 1.1), (-0.1, 2.1)]
xmaj = [[-2, -1, 0, 1, 2], [-1, -0.5, 0, 0.5, 1], [0, 0.5, 1, 1.5, 2]]
xmin = [[-1.5, -0.5, 0.5, 1.5], [-0.75, -0.25, 0.25, 0.75], [0.25, 0.75, 1.25, 1.75]]
xlab = [['$-2$', '$-1$', '$0$', '$1$', '$2$'],
        ['$-1$', '$-0.5$', '$0$', '$0.5$', '$1$'],
        ['$0$', '$0.5$', '$1$', '$1.5$', '$2$']]
xnames = [r'$\theta/\pi$', r'$k_1/\pi$', r'$k_2/\pi$']
ylab = ['$0$', '$0.2$', '$0.4$', '$0.6$', '$0.8$', '$1$']


def flat(cols):
    xs, ys = [], []
    for x, yl in cols:
        xs += [x] * len(yl)
        ys += yl
    return xs, ys


fig = plt.figure(figsize=(12, 18), dpi=100)

for r, row in enumerate(rows):
    for c in range(3):
        ax = fig.add_axes([col_x0[c], row_y0[r], col_w, row_h])
        gx, gy = flat(row['green'][c])
        ax.plot(gx, gy, 's', ms=7.2, mfc='none', mec='#0a8a0a', mew=1.6, zorder=2)
        bl, br = row['blue'][c]
        ax.plot(bl, row['by'], 'o', ms=5.6, mfc='none', mec='#0000ff', mew=2.1, zorder=3)
        ax.plot(br, row['by'], 'o', ms=5.6, mfc='none', mec='#0000ff', mew=2.1, zorder=3)
        ax.plot(row['red'][c], row['ty'], '<', ms=7.8, mfc='none', mec='#ff0000', mew=1.8, zorder=4)
        ax.plot(row['mag'][c], row['ty'], '>', ms=7.8, mfc='none', mec='#ff00ff', mew=1.8, zorder=4)

        ax.set_xlim(*xlims[c])
        ax.set_ylim(0, 1)
        ax.set_xticks(xmaj[c])
        ax.set_xticks(xmin[c], minor=True)
        ax.set_yticks([0, 0.2, 0.4, 0.6, 0.8, 1.0])
        ax.set_yticks([0.1, 0.3, 0.5, 0.7, 0.9], minor=True)
        ax.tick_params(which='both', direction='in', top=True, right=True, pad=14)
        ax.tick_params(axis='x', which='both', pad=12)
        ax.tick_params(which='major', length=8.5, width=2.2)
        ax.tick_params(which='minor', length=4.5, width=2.0)
        for s in ax.spines.values():
            s.set_linewidth(2.8)

        if c == 0:
            ax.set_yticklabels(ylab, fontsize=27)
            ax.set_ylabel(r'$1/\xi_{S^z=1}$', fontsize=44)
            ax.yaxis.set_label_coords(-0.29, 0.5)
            ax.text(0.0, 0.19, row['name'], ha='center', va='center', fontsize=30)
        else:
            ax.set_yticklabels([])

        if r == 3:
            ax.set_xticklabels(xlab[c], fontsize=25)
            ax.set_xlabel(xnames[c], fontsize=42)
            ax.xaxis.set_label_coords(0.5, -0.15)
        else:
            ax.set_xticklabels([])

    fig.text(0.012, row_y0[r] + row_h - 0.009, row['tag'], fontsize=30, ha='left', va='center')

fig.savefig('out.png', dpi=100)
